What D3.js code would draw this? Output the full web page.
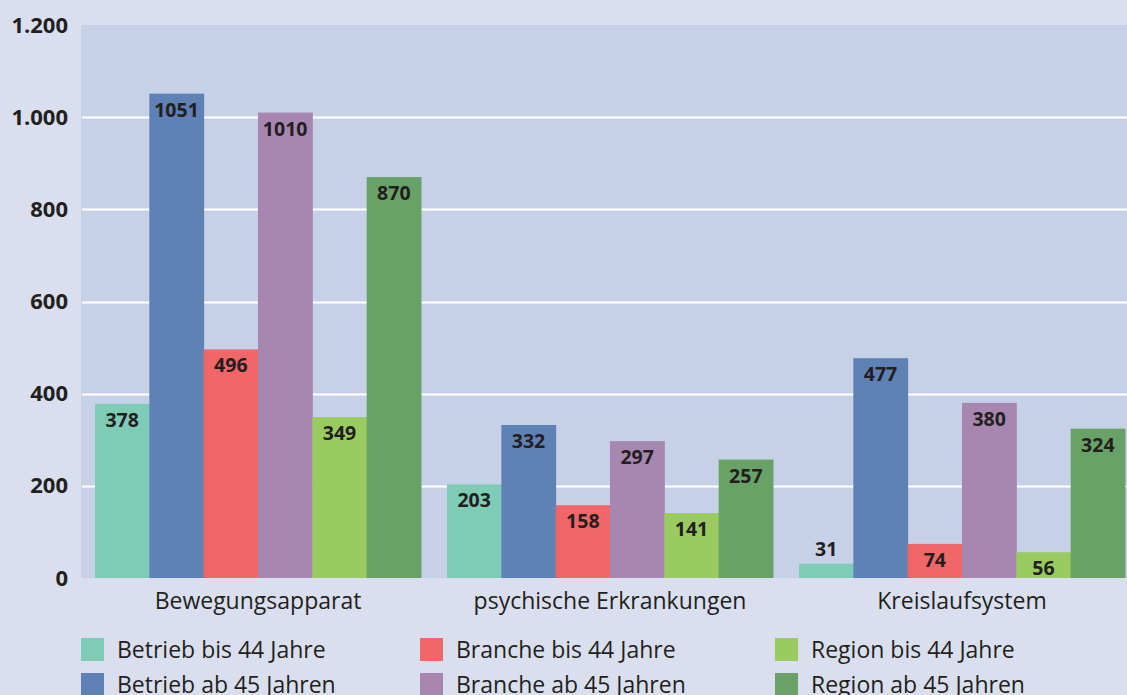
<!DOCTYPE html>
<html>
<head>
<meta charset="utf-8">
<script src="https://cdn.jsdelivr.net/npm/d3@7"></script>
<style>
  body { margin: 0; background: #d9dfee; }
  svg { display: block; font-family: "Open Sans", "Noto Sans", sans-serif; }
</style>
</head>
<body>
<div id="chart-area"></div>
<script>
// data
var categories = ["Bewegungsapparat", "psychische Erkrankungen", "Kreislaufsystem"];
var seriesNames = ["Betrieb bis 44 Jahre", "Betrieb ab 45 Jahren", "Branche bis 44 Jahre",
                   "Branche ab 45 Jahren", "Region bis 44 Jahre", "Region ab 45 Jahren"];
var betriebBis44 = [378, 203, 31];
var betriebAb45 = [1051, 332, 477];
var brancheBis44 = [496, 158, 74];
var brancheAb45 = [1010, 297, 380];
var regionBis44 = [349, 141, 56];
var regionAb45 = [870, 257, 324];
var yTicks = [0, 200, 400, 600, 800, 1000, 1200];
var colors = ["#7ecbb6", "#5e81b6", "#f16667", "#a787b0", "#9acb61", "#69a267"];

var seriesValues = [betriebBis44, betriebAb45, brancheBis44, brancheAb45, regionBis44, regionAb45];

var W = 1127, H = 695;
var plot = { left: 82, right: 1138, top: 25, bottom: 578 };

var svg = d3.select("#chart-area")
    .append("svg")
    .attr("width", W)
    .attr("height", H);

svg.append("rect")
    .attr("width", W).attr("height", H)
    .attr("fill", "#d9dfee");

svg.append("rect")
    .attr("x", plot.left - 1)
    .attr("y", plot.top)
    .attr("width", plot.right - plot.left + 1)
    .attr("height", plot.bottom - plot.top)
    .attr("fill", "#c6d1e8");

// scales
var x0 = d3.scaleBand()
    .domain(categories)
    .range([plot.left, plot.right])
    .paddingInner(0)
    .paddingOuter(0);

var x1 = d3.scaleBand()
    .domain(d3.range(seriesNames.length))
    .range([13, x0.bandwidth() - 13])
    .padding(0);

var y = d3.scaleLinear()
    .domain([0, 1200])
    .range([plot.bottom, plot.top]);

// gridlines
svg.append("g")
    .selectAll("line")
    .data(yTicks.filter(function(d){ return d > 0 && d < 1200; }))
    .enter().append("line")
    .attr("x1", plot.left)
    .attr("x2", W)
    .attr("y1", function(d){ return Math.round(y(d)) + 0.5; })
    .attr("y2", function(d){ return Math.round(y(d)) + 0.5; })
    .attr("stroke", "#ffffff")
    .attr("stroke-width", 2);

// Y axis
var yAxisCall = d3.axisLeft(y)
    .tickValues(yTicks)
    .tickSize(0)
    .tickPadding(0)
    .tickFormat(function(d){ return d3.format(",")(d).replace(/,/g, "."); });

var yAxis = svg.append("g")
    .attr("transform", "translate(68,0)")
    .call(yAxisCall);
yAxis.select(".domain").remove();
yAxis.selectAll("text")
    .attr("font-size", "22px")
    .attr("font-weight", "bold")
    .attr("fill", "#231f20")
    .attr("font-family", "'Open Sans', sans-serif");

// X axis labels
var xAxisCall = d3.axisBottom(x0).tickSize(0).tickPadding(0);
var xAxis = svg.append("g")
    .attr("transform", "translate(0," + (plot.bottom + 15) + ")")
    .call(xAxisCall);
xAxis.select(".domain").remove();
xAxis.selectAll("text")
    .attr("font-size", "23px")
    .attr("fill", "#231f20")
    .attr("font-family", "'Open Sans', sans-serif");

// bars
var groups = svg.append("g")
    .selectAll("g")
    .data(categories)
    .enter().append("g")
    .attr("transform", function(d){ return "translate(" + x0(d) + ",0)"; });

var bars = groups.selectAll("g.bar")
    .data(function(d, ci){
        return seriesValues.map(function(vals, si){ return { s: si, v: vals[ci] }; });
    })
    .enter().append("g")
    .attr("class", "bar");

bars.append("rect")
    .attr("x", function(d){ return x1(d.s); })
    .attr("width", x1.bandwidth() + 0.5)
    .attr("y", function(d){ return y(d.v); })
    .attr("height", function(d){ return y(0) - y(d.v); })
    .attr("fill", function(d){ return colors[d.s]; });

bars.append("text")
    .attr("x", function(d){ return x1(d.s) + x1.bandwidth() / 2; })
    .attr("y", function(d){
        var h = y(0) - y(d.v);
        return h > 22 ? y(d.v) + 23 : y(d.v) - 8;
    })
    .attr("text-anchor", "middle")
    .attr("font-size", "19.5px")
    .attr("font-weight", "bold")
    .attr("fill", "#231f20")
    .text(function(d){ return d.v; });

// legend
var legendCols = [81, 420, 775];
var legend = svg.append("g")
    .selectAll("g")
    .data(seriesNames)
    .enter().append("g")
    .attr("transform", function(d, i){
        var col = Math.floor(i / 2), row = i % 2;
        return "translate(" + legendCols[col] + "," + (638 + row * 35) + ")";
    });

legend.append("rect")
    .attr("width", 23)
    .attr("height", 23)
    .attr("fill", function(d, i){ return colors[i]; });

legend.append("text")
    .attr("x", 36)
    .attr("y", 12)
    .attr("dy", "0.35em")
    .attr("font-size", "23px")
    .attr("fill", "#231f20")
    .text(function(d){ return d; });
</script>
</body>
</html>
